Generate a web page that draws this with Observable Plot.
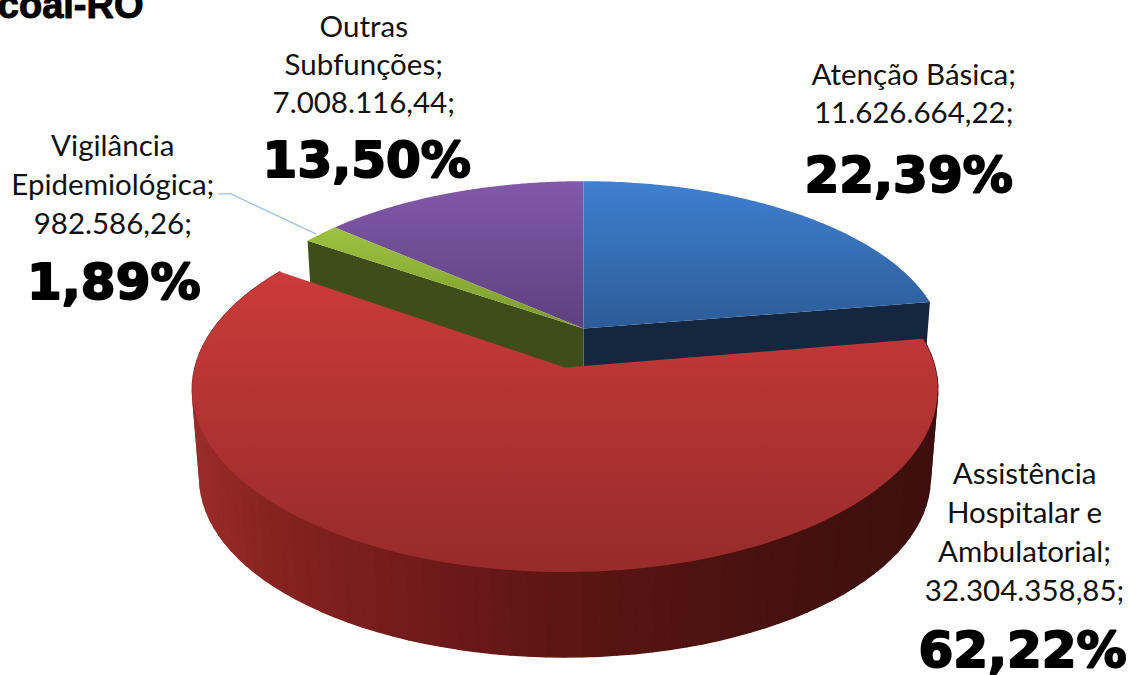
<!DOCTYPE html>
<html><head><meta charset="utf-8">
<script src="https://cdn.jsdelivr.net/npm/d3@7"></script>
<script src="https://cdn.jsdelivr.net/npm/@observablehq/plot@0.6"></script>
<style>
html,body{margin:0;padding:0;background:#fff}
svg{display:block}
g[aria-label="shadow"]{filter:blur(3px)}
</style></head><body><div id="chart"></div>
<script>
// DATA
const categories = ["Atenção Básica", "Assistência Hospitalar e Ambulatorial", "Vigilância Epidemiológica", "Outras Subfunções"];
const values = [11626664.22, 32304358.85, 982586.26, 7008116.44];
const nameLines = [["Atenção Básica;"], ["Assistência", "Hospitalar e", "Ambulatorial;"], ["Vigilância", "Epidemiológica;"], ["Outras", "Subfunções;"]];
const visibleTitle = "coal-RO";

// LAYOUT (pie projection and label offsets, no data)
const W = 1130, H = 675, K = 0.12, DEPTH = 89, SHRINK = 0.98;
const backPlane = {cx: 583, cy: 328, A: 358, B: 165};
const redPlane = {cx: 564.5, cy: 367, A: 370, B: 180};
const lower = p => ({cx: p.cx, cy: p.cy + DEPTH, A: p.A * SHRINK, B: p.B * SHRINK});
const project = (p, a) => {
  const u = Math.sin(a), v = Math.cos(a), d = 1 + K * v;
  return {x: p.cx + u * p.A / d, y: p.cy - v * p.B / d};
};
const total = d3.sum(values);
const cum = [0, ...d3.cumsum(values)].map(c => c / total * 2 * Math.PI);
const angles = values.map((_, i) => [cum[i], cum[i + 1]]);
const arc = (p, a0, a1) => d3.range(0, 121).map(t => project(p, a0 + (a1 - a0) * t / 120));
const wedge = (p, [a0, a1]) => [{x: p.cx, y: p.cy}, ...arc(p, a0, a1)];
const radialFace = (p, a) => {
  const q = lower(p);
  return [{x: p.cx, y: p.cy}, project(p, a), project(q, a), {x: q.cx, y: q.cy}];
};

const pt = d3.formatLocale({decimal: ",", thousands: ".", grouping: [3], currency: ["", ""]});
const money = pt.format(",.2f"), pct = pt.format(".2f");

// red wall strips, shaded along x
const shade = d3.scaleLinear().domain([195, 270, 470, 600, 800, 935])
  .range(["#9b2b2a", "#85231f", "#6a1818", "#581512", "#45110f", "#3e0f0e"]).clamp(true);
const [r0, r1] = angles[1];
const redLow = lower(redPlane);
const stripCount = 90;
const strips = d3.range(0, stripCount).flatMap(i => {
  const a = r0 + (r1 - r0) * i / stripCount, b = r0 + (r1 - r0) * (i + 1) / stripCount;
  const A = project(redPlane, a), B = project(redPlane, b), C = project(redLow, b), D = project(redLow, a);
  const color = d3.color(shade((A.x + B.x) / 2)).formatHex();
  return [A, B, C, D].map(q => ({...q, strip: i, color}));
});

const gradients = () => d3.create("svg:defs").html(`
  <linearGradient id="gBlue" x1="0" y1="0" x2="0" y2="1"><stop offset="0" stop-color="#3f80d0"/><stop offset="1" stop-color="#2c5c98"/></linearGradient>
  <linearGradient id="gRed" x1="0" y1="0" x2="0" y2="1"><stop offset="0" stop-color="#cb3b3a"/><stop offset="1" stop-color="#962b2a"/></linearGradient>
  <linearGradient id="gGreen" x1="0" y1="0" x2="0" y2="1"><stop offset="0" stop-color="#9cc23e"/><stop offset="1" stop-color="#7b9a30"/></linearGradient>
  <linearGradient id="gPurple" x1="0" y1="0" x2="0" y2="1"><stop offset="0" stop-color="#8259aa"/><stop offset="1" stop-color="#5e407f"/></linearGradient>`).node();

const polygon = (pts, fill, extra = {}) => Plot.line(pts, {x: "x", y: "y", fill, stroke: "none", ...extra});

// label anchors as offsets from each slice's rim midpoint
const rimMid = i => project(i === 1 ? redPlane : backPlane, (angles[i][0] + angles[i][1]) / 2);
const labelOffsets = [{dx: 118, dy: -155, pct: 118, line: 38, pctDx: -5}, {dx: 551, dy: -110, pct: 195, line: 39, pctDx: -2}, {dx: -208, dy: -106, pct: 155, line: 39, pctDx: 1}, {dx: -87, dy: -183, pct: 151, line: 38, pctDx: 3}];
const labelMarks = values.flatMap((v, i) => {
  const m = rimMid(i), o = labelOffsets[i];
  const lines = [...nameLines[i], money(v) + ";"];
  const x = m.x + o.dx, y = m.y + o.dy;
  return [
    Plot.text([lines.join("\n")], {x, y, text: d => d, fontFamily: "Lato", fontSize: 29.5, lineHeight: o.line / 29.5, lineAnchor: "top", textAnchor: "middle", fill: "#111"}),
    Plot.text([pct(v / total * 100) + "%"], {x: x + o.pctDx, y: y + o.pct, text: d => d, fontFamily: "DejaVu Sans", fontWeight: 700, fontSize: 50, lineAnchor: "middle", textAnchor: "middle", fill: "#000", stroke: "#000", strokeWidth: 2})
  ];
});

const gm = rimMid(2);
const leader = [{x: gm.x - 102, y: gm.y - 40}, {x: gm.x - 90, y: gm.y - 40}, {x: gm.x - 5, y: gm.y}];

const chart = Plot.plot({
  width: W, height: H, margin: 0,
  x: {domain: [0, W], range: [0, W], axis: null},
  y: {domain: [0, H], range: [0, H], axis: null},
  color: {type: "identity"},
  style: {background: "#fff"},
  marks: [
    gradients,
    Plot.line(leader, {x: "x", y: "y", stroke: "#9dc3e6", strokeWidth: 1.3}),
    polygon(radialFace(backPlane, angles[0][1]), "#15263f"),
    polygon(radialFace(backPlane, angles[2][0]), "#3f4d1b"),
    polygon(wedge(backPlane, angles[3]), "url(#gPurple)"),
    polygon(wedge(backPlane, angles[2]), "url(#gGreen)"),
    polygon(wedge(backPlane, angles[0]), "url(#gBlue)"),
    polygon(arc({...redLow, cx: redLow.cx - 1, cy: redLow.cy + 2}, r0, r1), "#555", {ariaLabel: "shadow", fillOpacity: 0.7}),
    Plot.line(strips, {x: "x", y: "y", z: "strip", fill: "color", stroke: "color", strokeWidth: 1.5}),
    polygon(wedge(redPlane, angles[1]), "url(#gRed)"),
    ...labelMarks,
    Plot.text([visibleTitle], {x: 143, y: 17, text: d => d, fontFamily: "Liberation Sans", fontWeight: 700, fontSize: 38, textAnchor: "end", lineAnchor: "bottom", fill: "#000", stroke: "#000", strokeWidth: 1})
  ]
});
document.getElementById("chart").append(chart);
</script></body></html>
